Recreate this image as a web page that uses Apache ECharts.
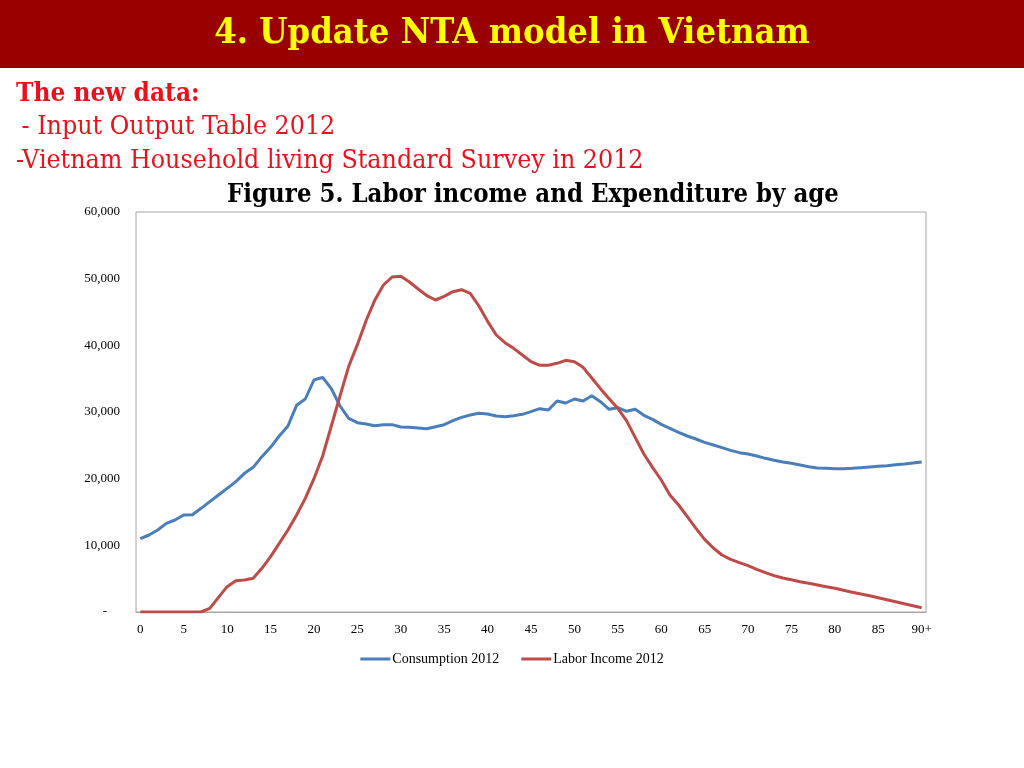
<!DOCTYPE html>
<html>
<head>
<meta charset="utf-8">
<script src="https://cdn.jsdelivr.net/npm/echarts@6/dist/echarts.min.js"></script>
<style>html,body{margin:0;padding:0;background:#fff;}#main{width:1024px;height:768px;}</style>
</head>
<body>
<div id="main"></div>
<script>
var ages = [];
for (var i = 0; i < 90; i++) ages.push(String(i));
ages.push('90+');

var consumption2012 = [
11000,11550,12300,13300,13800,14550,14600,15550,16550,17550,
18550,19550,20800,21700,23300,24700,26400,27900,31000,31950,
34800,35200,33500,30900,29050,28400,28200,27950,28100,28100,
27750,27700,27600,27500,27800,28100,28700,29200,29550,29800,
29700,29400,29300,29450,29650,30050,30500,30300,31650,31350,
31950,31650,32450,31550,30400,30650,30100,30400,29500,28900,
28150,27550,26950,26400,25950,25450,25050,24650,24250,23900,
23700,23400,23050,22750,22500,22300,22050,21800,21600,21550,
21500,21500,21550,21650,21750,21850,21950,22100,22200,22350,
22500];

var laborIncome2012 = [
0,0,0,0,0,0,0,0,550,2200,
3800,4700,4800,5050,6550,8300,10300,12300,14550,17050,
20000,23400,27900,32400,36850,40100,43700,46750,49050,50250,
50350,49500,48450,47450,46800,47350,48050,48350,47800,45900,
43600,41550,40400,39550,38550,37550,37000,37000,37300,37750,
37550,36700,35100,33500,32000,30550,28700,26200,23700,21700,
19800,17550,16050,14300,12550,10900,9600,8550,7900,7400,
6950,6400,5900,5450,5100,4850,4550,4300,4050,3800,
3550,3250,2950,2700,2450,2150,1850,1550,1250,950,
650];

var seriesNames = ['Consumption 2012', 'Labor Income 2012'];
var headerText = '4. Update NTA model in Vietnam';
var subLines = ['The new data:', ' - Input Output Table 2012', '-Vietnam Household living Standard Survey in 2012'];
var figureTitle = 'Figure 5. Labor income and Expenditure by age';

var chart = echarts.init(document.getElementById('main'));
var condensed = '"DejaVu Serif Condensed", "Liberation Serif", serif';
var red = '#e8121c';

chart.setOption({
  animation: false,
  backgroundColor: '#ffffff',
  graphic: [
    { type: 'rect', shape: { x: 0, y: 0, width: 1024, height: 68 }, style: { fill: '#990000' } },
    { type: 'text', x: 512, y: 34, style: { text: headerText, font: 'bold 36px ' + condensed, fill: '#ffff00', align: 'center', verticalAlign: 'middle' } },
    { type: 'text', x: 16, y: 94, style: { text: subLines[0], font: 'bold 26px ' + condensed, fill: red, align: 'left', verticalAlign: 'middle' } },
    { type: 'text', x: 14, y: 127, style: { text: subLines[1], font: '26.5px ' + condensed, fill: red, align: 'left', verticalAlign: 'middle' } },
    { type: 'text', x: 16, y: 161, style: { text: subLines[2], font: '26.5px ' + condensed, fill: red, align: 'left', verticalAlign: 'middle' } },
    { type: 'text', x: 533, y: 195, style: { text: figureTitle, font: 'bold 25.5px ' + condensed, fill: '#000', align: 'center', verticalAlign: 'middle' } }
  ],
  legend: {
    top: 647,
    left: 'center',
    icon: 'rect',
    itemWidth: 30,
    itemHeight: 3,
    itemGap: 22,
    textStyle: { fontFamily: '"Liberation Serif", serif', fontSize: 14, color: '#000', padding: [0, 0, 0, -3] },
    data: seriesNames
  },
  grid: {
    left: 136, right: 98, top: 212, height: 400,
    show: true, borderColor: '#a6a6a6', borderWidth: 1,
    containLabel: false
  },
  xAxis: {
    type: 'category',
    data: ages,
    boundaryGap: true,
    axisLine: { show: true, lineStyle: { color: '#a6a6a6' } },
    axisTick: { show: false },
    axisLabel: {
      interval: 4,
      margin: 11,
      fontFamily: '"Liberation Serif", serif',
      fontSize: 13,
      color: '#000'
    }
  },
  yAxis: {
    type: 'value',
    min: 0, max: 60000, interval: 10000,
    splitLine: { show: false },
    axisLine: { show: false },
    axisTick: { show: false },
    axisLabel: {
      margin: 16,
      fontFamily: '"Liberation Serif", serif',
      fontSize: 13,
      color: '#000',
      formatter: function (v) { return v === 0 ? '-    ' : v.toLocaleString('en-US'); }
    }
  },
  series: [
    { name: seriesNames[0], type: 'line', data: consumption2012, symbol: 'none', lineStyle: { color: '#4a7ebb', width: 3 }, itemStyle: { color: '#4a7ebb' } },
    { name: seriesNames[1], type: 'line', data: laborIncome2012, symbol: 'none', lineStyle: { color: '#be4b48', width: 3 }, itemStyle: { color: '#be4b48' } }
  ]
});
</script>
</body>
</html>
